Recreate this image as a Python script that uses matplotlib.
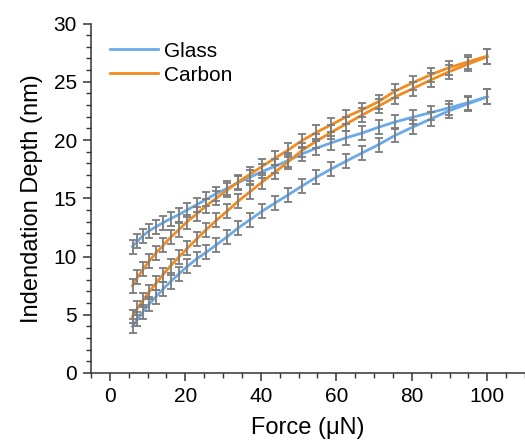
import matplotlib
matplotlib.use("Agg")
import matplotlib.pyplot as plt
from matplotlib.ticker import MultipleLocator

plt.rcParams['font.family'] = ['Liberation Sans', 'DejaVu Sans']

force = [6.0, 7.3, 8.8, 10.4, 12.2, 14.1, 16.1, 18.3, 20.5, 23.0,
         25.5, 28.2, 31.1, 34.0, 37.1, 40.4, 43.8, 47.3, 50.9, 54.7,
         58.6, 62.7, 66.9, 71.2, 75.6, 80.2, 85.0, 89.8, 94.8, 100.0]

glass_upper = [10.85, 11.3, 11.8, 12.2, 12.55, 12.9, 13.25, 13.6, 14.0, 14.45,
               14.9, 15.4, 15.85, 16.35, 16.8, 17.3, 17.75, 18.25, 18.8, 19.3,
               19.75, 20.2, 20.6, 21.1, 21.55, 21.95, 22.35, 22.75, 23.2, 23.7]
glass_lower = [4.0, 4.6, 5.25, 5.9, 6.55, 7.2, 7.85, 8.5, 9.15, 9.8,
               10.35, 11.0, 11.7, 12.45, 13.15, 13.9, 14.6, 15.3, 16.05, 16.8,
               17.5, 18.2, 18.9, 19.6, 20.4, 21.1, 21.8, 22.5, 23.1, 23.7]
carbon_upper = [7.5, 8.2, 8.9, 9.6, 10.3, 10.95, 11.65, 12.3, 13.0, 13.65,
                14.35, 15.0, 15.7, 16.4, 17.05, 17.75, 18.45, 19.15, 19.95, 20.65,
                21.3, 22.0, 22.6, 23.3, 24.2, 24.9, 25.6, 26.2, 26.7, 27.2]
carbon_lower = [4.85, 5.55, 6.25, 6.95, 7.7, 8.45, 9.2, 9.95, 10.7, 11.5,
                12.3, 13.1, 13.9, 14.75, 15.55, 16.4, 17.25, 18.14, 19.1, 19.9,
                20.65, 21.4, 22.15, 22.9, 23.7, 24.4, 25.15, 25.85, 26.5, 27.15]
err = [0.6, 0.6, 0.6, 0.6, 0.6, 0.6, 0.6, 0.6, 0.6, 0.6,
       0.6, 0.6, 0.6, 0.6, 0.6, 0.6, 0.6, 0.6, 0.6, 0.6,
       0.6, 0.6, 0.6, 0.6, 0.6, 0.6, 0.6, 0.6, 0.6, 0.65]

blue = '#6aaaea'
orange = '#f28a1e'
gray = '#7c7c7c'

fig = plt.figure(figsize=(5.25, 4.44), dpi=100)
ax = fig.add_axes([91/525, 1-373/444, 1-91/525, (373-23.5)/444])

series = [(glass_upper, blue, 'Glass'), (glass_lower, blue, None),
          (carbon_upper, orange, 'Carbon'), (carbon_lower, orange, None)]
for ys, col, lab in series:
    ax.plot(force, ys, color=col, lw=2.0, zorder=2, label=lab)
for ys, col, lab in series:
    ax.errorbar(force, ys, yerr=err, fmt='none', ecolor=gray, elinewidth=1.3,
                capsize=2.6, capthick=1.3, zorder=3)

ax.set_xlim(-5, 110)
ax.set_ylim(0, 30)
ax.xaxis.set_minor_locator(MultipleLocator(5))
ax.yaxis.set_major_locator(MultipleLocator(5))
ax.yaxis.set_minor_locator(MultipleLocator(1))
ax.set_xticks([0, 20, 40, 60, 80, 100])
ax.spines['top'].set_visible(False)
ax.spines['right'].set_visible(False)
for s in ('left', 'bottom'):
    ax.spines[s].set_linewidth(1.1)
    ax.spines[s].set_color('#333333')
ax.tick_params(which='major', direction='out', length=6, width=1.1, color='#333333',
               labelsize=15, pad=4)
ax.tick_params(which='minor', direction='out', length=3.5, width=1.0, color='#333333')
ax.set_xlabel('Force (\u03bcN)', fontsize=17, labelpad=8)
ax.set_ylabel('Indendation Depth (nm)', fontsize=17, labelpad=8)

ax.legend(loc='upper left', frameon=False, fontsize=15, handlelength=2.3,
          handletextpad=0.3, borderaxespad=0.3, bbox_to_anchor=(0.01, 0.99),
          labelspacing=0.25)

fig.savefig('out.png', dpi=100)
